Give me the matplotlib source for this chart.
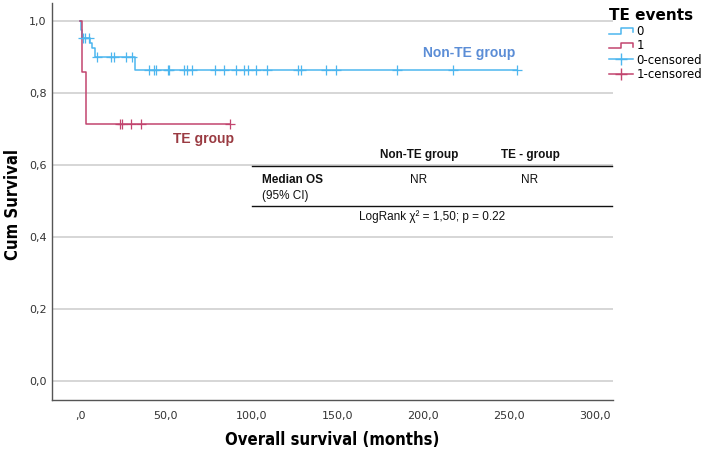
import matplotlib
matplotlib.use("Agg")
import matplotlib.pyplot as plt
from matplotlib.lines import Line2D
from matplotlib.legend_handler import HandlerBase

# Kaplan-Meier steps (time in months, cum survival)
non_te_times = [0.0, 0.3, 1.0, 5.8, 7.2, 8.6, 32.1, 254.7]
non_te_surv = [1.0, 0.974, 0.951, 0.937, 0.924, 0.900, 0.863, 0.863]
non_te_censored = [1.5, 3.0, 5.0, 10.1, 17.9, 19.8, 26.7, 30.2, 39.9, 43.2, 44.2,
                   51.0, 51.9, 60.3, 62.6, 65.5, 78.8, 83.7, 90.9, 95.7, 97.7,
                   102.6, 108.8, 126.9, 128.8, 143.4, 149.3, 184.6, 217.0, 254.7]

te_times = [0.0, 0.9, 3.4, 87.5]
te_surv = [1.0, 0.857, 0.714, 0.714]
te_censored = [23.5, 24.3, 29.6, 35.4, 87.5]

x_ticks = [0, 50, 100, 150, 200, 250, 300]
x_tick_labels = [",0", "50,0", "100,0", "150,0", "200,0", "250,0", "300,0"]
y_ticks = [0.0, 0.2, 0.4, 0.6, 0.8, 1.0]
y_tick_labels = ["0,0", "0,2", "0,4", "0,6", "0,8", "1,0"]

table_cols = ["Non-TE group", "TE - group"]
table_vals = ["NR", "NR"]

BLUE = "#4db6ef"
RED = "#c2456f"


def surv_at(times, surv, t):
    val = surv[0]
    for ti, si in zip(times, surv):
        if ti <= t:
            val = si
    return val


class StepHandler(HandlerBase):
    def create_artists(self, legend, orig_handle, xdescent, ydescent, width, height, fontsize, trans):
        w, h = width, height
        xs = [0, 0.5 * w, 0.5 * w, w, w]
        ys = [0.1 * h, 0.1 * h, 0.8 * h, 0.8 * h, 0.3 * h]
        line = Line2D(xs, ys, color=orig_handle.get_color(), lw=1.1, transform=trans)
        return [line]


fig = plt.figure(figsize=(7.14, 4.49), dpi=100)
ax = fig.add_axes([52 / 714, 1 - 400 / 449, (613 - 52) / 714, (400 - 3) / 449])

for y in y_ticks:
    ax.axhline(y, color="#d0d0d0", lw=1.2, zorder=0)

ax.step(non_te_times, non_te_surv, where="post", color=BLUE, lw=1.1)
ax.step(te_times, te_surv, where="post", color=RED, lw=1.1)
ax.plot(non_te_censored, [surv_at(non_te_times, non_te_surv, t) for t in non_te_censored],
        ls="none", marker="+", ms=7, mew=0.9, color=BLUE)
ax.plot(te_censored, [surv_at(te_times, te_surv, t) for t in te_censored],
        ls="none", marker="+", ms=7, mew=0.9, color=RED)

ax.set_xlim(-16.3, 310.4)
ax.set_ylim(-0.054, 1.049)
ax.set_xticks(x_ticks)
ax.set_xticklabels(x_tick_labels)
ax.set_yticks(y_ticks)
ax.set_yticklabels(y_tick_labels)
ax.tick_params(length=0, labelsize=8, colors="#333333", pad=8)
ax.tick_params(axis="y", pad=4)
for s in ["top", "right"]:
    ax.spines[s].set_visible(False)
for s in ["left", "bottom"]:
    ax.spines[s].set_color("#555555")
    ax.spines[s].set_linewidth(1.0)

ax.set_xlabel("Overall survival (months)", fontsize=12, fontweight="bold",
              fontstretch="condensed", labelpad=7)
fig.text(13 / 714, 1 - 205 / 449, "Cum Survival", fontsize=12, fontweight="bold",
         fontstretch="condensed", rotation=90, ha="center", va="center")

# group labels
ax.text(226.5, 0.910, "Non-TE group", color="#5b8dd6", fontsize=10, fontweight="bold",
        family="Liberation Sans", ha="center", va="center")
ax.text(72.2, 0.670, "TE group", color="#9a3b42", fontsize=10, fontweight="bold",
        family="Liberation Sans", ha="center", va="center")

# summary table
tf = dict(family="Liberation Sans", fontsize=8.5, color="#111111")


def fx(px):
    return px / 714


def fy(py):
    return 1 - py / 449


fig.text(fx(419), fy(155), table_cols[0], ha="center", va="center", fontweight="bold", **tf)
fig.text(fx(530), fy(155), table_cols[1], ha="center", va="center", fontweight="bold", **tf)
fig.add_artist(Line2D([fx(252), fx(612)], [fy(166), fy(166)], color="#111111", lw=1.0))
fig.text(fx(262), fy(180), "Median OS", ha="left", va="center", fontweight="bold", **tf)
fig.text(fx(262), fy(196), "(95% CI)", ha="left", va="center", **tf)
fig.text(fx(419), fy(180), table_vals[0], ha="center", va="center", **tf)
fig.text(fx(530), fy(180), table_vals[1], ha="center", va="center", **tf)
fig.add_artist(Line2D([fx(252), fx(612)], [fy(206), fy(206)], color="#111111", lw=1.0))
fig.text(fx(432), fy(217), "LogRank χ² = 1,50; p = 0.22", ha="center", va="center", **tf)

handles = [Line2D([], [], color=BLUE), Line2D([], [], color=RED),
           Line2D([], [], color=BLUE, marker="+", ms=9, lw=1.1),
           Line2D([], [], color=RED, marker="+", ms=9, lw=1.1)]
labels = ["0", "1", "0-censored", "1-censored"]
leg = fig.legend(handles, labels, loc="upper left", bbox_to_anchor=(607 / 714, 1 - 6 / 449),
                 frameon=False, title="TE events", fontsize=8.5, handlelength=2.0,
                 handletextpad=0.3, labelspacing=0.12, borderaxespad=0, borderpad=0.2,
                 handler_map={handles[0]: StepHandler(), handles[1]: StepHandler()})
leg.get_title().set_fontweight("bold")
leg.get_title().set_fontsize(11)
leg._legend_box.align = "left"

fig.savefig("out.png", dpi=100)
